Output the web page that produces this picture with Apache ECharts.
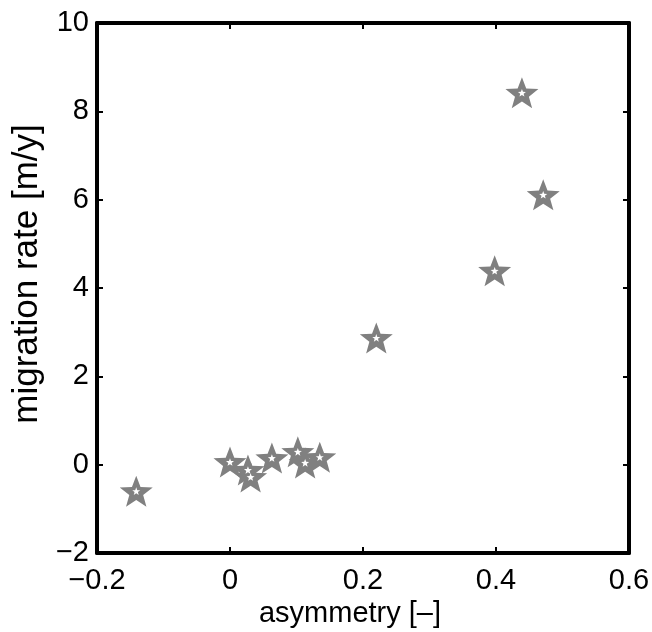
<!DOCTYPE html>
<html>
<head>
<meta charset="utf-8">
<script src="https://cdn.jsdelivr.net/npm/echarts@6/dist/echarts.min.js"></script>
<style>html,body{margin:0;padding:0;background:#fff;}#c{width:652px;height:632px;}</style>
</head>
<body>
<div id="c"></div>
<script>
const asymmetry = [-0.141, 0.0, 0.027, 0.031, 0.063, 0.102, 0.113, 0.135, 0.22, 0.398, 0.439, 0.471];
const migrationRate = [-0.6, 0.06, -0.12, -0.28, 0.15, 0.29, 0.04, 0.17, 2.87, 4.39, 8.42, 6.11];
const xTicks = [-0.2, 0, 0.2, 0.4, 0.6];
const yTicks = [-2, 0, 2, 4, 6, 8, 10];

function starPath(ratio) {
  const R = 100, r = R * ratio;
  let d = '';
  for (let i = 0; i < 10; i++) {
    const rad = (i % 2 === 0) ? R : r;
    const a = -Math.PI / 2 + i * Math.PI / 5;
    const px = (rad * Math.cos(a)).toFixed(2), py = (rad * Math.sin(a)).toFixed(2);
    d += (i === 0 ? 'M' : 'L') + px + ',' + py;
  }
  return 'path://' + d + 'Z';
}
const star = starPath(0.42);
const pts = asymmetry.map((x, i) => [x, migrationRate[i]]);
const fmt = v => String(Math.round(v * 10) / 10).replace('-', '\u2212');
const font = 'Liberation Sans, Arial, Helvetica, sans-serif';

const chart = echarts.init(document.getElementById('c'));
const axisCommon = {
  axisLine: { show: true, onZero: false, lineStyle: { color: '#000', width: 4 } },
  axisTick: { show: true, inside: true, length: 6, lineStyle: { color: '#000', width: 2 } },
  splitLine: { show: false }
};
chart.setOption({
  animation: false,
  grid: { left: 97, right: 23, top: 23, bottom: 79, containLabel: false, outerBoundsMode: 'none' },
  xAxis: [
    Object.assign({
      type: 'value', min: -0.2, max: 0.6, interval: 0.2, position: 'bottom',
      name: 'asymmetry [\u2013]', nameLocation: 'middle', nameGap: 36,
      nameTextStyle: { fontFamily: font, fontSize: 29, color: '#000', padding: [0, 26, 0, 0] },
      axisLabel: { show: true, formatter: fmt, fontFamily: font, fontSize: 29, color: '#000', margin: 13, showMinLabel: true, showMaxLabel: true }
    }, axisCommon),
    Object.assign({
      type: 'value', min: -0.2, max: 0.6, interval: 0.2, position: 'top',
      axisLabel: { show: false }
    }, axisCommon)
  ],
  yAxis: [
    Object.assign({
      type: 'value', min: -2, max: 10, interval: 2, position: 'left',
      name: 'migration rate [m/y]', nameLocation: 'middle', nameGap: 50,
      nameTextStyle: { fontFamily: font, fontSize: 35, color: '#000', padding: [0, 0, 0, 28] },
      axisLabel: { show: true, formatter: fmt, fontFamily: font, fontSize: 29, color: '#000', margin: 8, showMinLabel: true, showMaxLabel: true }
    }, axisCommon),
    Object.assign({
      type: 'value', min: -2, max: 10, interval: 2, position: 'right',
      axisLabel: { show: false }
    }, axisCommon)
  ],
  series: [
    {
      type: 'scatter', data: pts, symbol: star, symbolSize: [33, 31],
      itemStyle: { color: '#808080', opacity: 1 }, z: 2
    },
    {
      type: 'scatter', data: pts, symbol: star, symbolSize: [8, 7.6],
      itemStyle: { color: '#ffffff', opacity: 1 }, z: 3
    }
  ]
});
</script>
</body>
</html>
